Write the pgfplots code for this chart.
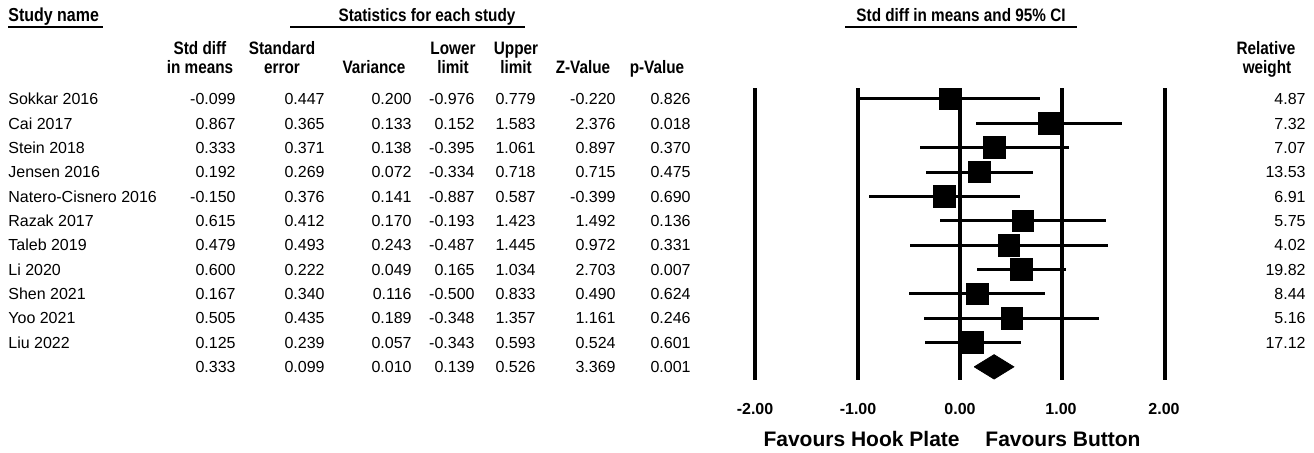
\documentclass[border=0pt]{standalone}
\usepackage{pgfplots}
\pgfplotsset{compat=1.18}
\usepackage{pgfplotstable}
\usepackage{fontspec}
\setmainfont{Liberation Sans}
\newfontfamily\hdr[FakeStretch=0.85]{Liberation Sans}

% row: 1 = top study, 12 = summary
\pgfplotstableread{
row es lo hi
1 -0.099 -0.976 0.779
2 0.867 0.152 1.583
3 0.333 -0.395 1.061
4 0.192 -0.334 0.718
5 -0.150 -0.887 0.587
6 0.615 -0.193 1.423
7 0.479 -0.487 1.445
8 0.600 0.165 1.034
9 0.167 -0.500 0.833
10 0.505 -0.348 1.357
11 0.125 -0.343 0.593
}\studies

\newcommand\rr[9]{%
  \node[anchor=base west] at (8,#1) {#2};
  \node[anchor=base east] at (236,#1) {#3};
  \node[anchor=base east] at (325,#1) {#4};
  \node[anchor=base east] at (412,#1) {#5};
  \node[anchor=base east] at (475,#1) {#6};
  \node[anchor=base east] at (536,#1) {#7};
  \node[anchor=base east] at (616,#1) {#8};
  \node[anchor=base east] at (691,#1) {#9};
}
\newcommand\wt[2]{\node[anchor=base east] at (1306,#1) {#2};}

\begin{document}
\begin{tikzpicture}
\begin{axis}[scale only axis, width=657pt, height=226.5pt,
  xmin=-9.384, xmax=3.460, ymin=-3.066, ymax=15.538, y dir=reverse,
  hide axis, clip=false]
\path (rel axis cs:0,0) rectangle (rel axis cs:1,1);
\addplot[black, line width=2pt] coordinates {(-2,0.55) (-2,12.54)};
\addplot[black, line width=2pt] coordinates {(-1,0.55) (-1,12.54)};
\addplot[black, line width=2pt] coordinates {(0,0.55) (0,12.54)};
\addplot[black, line width=2pt] coordinates {(1,0.55) (1,12.54)};
\addplot[black, line width=2pt] coordinates {(2,0.55) (2,12.54)};
\addplot[only marks, mark=square*, mark size=5.4pt, black,
  error bars/.cd, x dir=both, x explicit, error mark=none,
  error bar style={line width=1.5pt, black}]
  table[x=es, y=row,
        x error plus expr=\thisrow{hi}-\thisrow{es},
        x error minus expr=\thisrow{es}-\thisrow{lo}] {\studies};
\addplot[fill=black, draw=black] coordinates {(0.139,12) (0.333,11.5) (0.526,12) (0.333,12.5) (0.139,12)};
\end{axis}
\begin{scope}[shift={(current axis.north west)}, x=0.5pt, y=-0.5pt,
  every node/.style={inner sep=0pt, font=\fontsize{8}{9.6}\selectfont}]
  % section headers
  \node[anchor=base west, font=\hdr\bfseries\fontsize{9.4}{10}\selectfont] at (8,22) {Study name};
  \draw[line width=1pt] (8,27) -- (103,27);
  \node[anchor=base, font=\hdr\bfseries\fontsize{9}{10}\selectfont] at (427,22) {Statistics for each study};
  \draw[line width=1pt] (290,27) -- (525,27);
  \node[anchor=base, font=\hdr\bfseries\fontsize{9}{10}\selectfont] at (961,22) {Std diff in means and 95\% CI};
  \draw[line width=1pt] (845,27) -- (1077,27);
  % column headers
  \begin{scope}[every node/.style={inner sep=0pt, anchor=base, font=\hdr\bfseries\fontsize{9}{10}\selectfont}]
    \node at (200,55) {Std diff}; \node at (200,74) {in means};
    \node at (282,55) {Standard}; \node at (282,74) {error};
    \node at (374,74) {Variance};
    \node at (453,55) {Lower}; \node at (453,74) {limit};
    \node at (516,55) {Upper}; \node at (516,74) {limit};
    \node at (583,74) {Z-Value};
    \node at (657,74) {p-Value};
    \node at (1266,55) {Relative}; \node at (1267,74) {weight};
  \end{scope}
  % rows
  \rr{104.7}{Sokkar 2016}{-0.099}{0.447}{0.200}{-0.976}{0.779}{-0.220}{0.826}
  \rr{129.05}{Cai 2017}{0.867}{0.365}{0.133}{0.152}{1.583}{2.376}{0.018}
  \rr{153.4}{Stein 2018}{0.333}{0.371}{0.138}{-0.395}{1.061}{0.897}{0.370}
  \rr{177.75}{Jensen 2016}{0.192}{0.269}{0.072}{-0.334}{0.718}{0.715}{0.475}
  \rr{202.1}{Natero-Cisnero 2016}{-0.150}{0.376}{0.141}{-0.887}{0.587}{-0.399}{0.690}
  \rr{226.45}{Razak 2017}{0.615}{0.412}{0.170}{-0.193}{1.423}{1.492}{0.136}
  \rr{250.8}{Taleb 2019}{0.479}{0.493}{0.243}{-0.487}{1.445}{0.972}{0.331}
  \rr{275.15}{Li 2020}{0.600}{0.222}{0.049}{0.165}{1.034}{2.703}{0.007}
  \rr{299.5}{Shen 2021}{0.167}{0.340}{0.116}{-0.500}{0.833}{0.490}{0.624}
  \rr{323.85}{Yoo 2021}{0.505}{0.435}{0.189}{-0.348}{1.357}{1.161}{0.246}
  \rr{348.2}{Liu 2022}{0.125}{0.239}{0.057}{-0.343}{0.593}{0.524}{0.601}
  \rr{372.55}{}{0.333}{0.099}{0.010}{0.139}{0.526}{3.369}{0.001}
  \wt{104.7}{4.87} \wt{129.05}{7.32} \wt{153.4}{7.07} \wt{177.75}{13.53}
  \wt{202.1}{6.91} \wt{226.45}{5.75} \wt{250.8}{4.02} \wt{275.15}{19.82}
  \wt{299.5}{8.44} \wt{323.85}{5.16} \wt{348.2}{17.12}
  % tick labels
  \begin{scope}[every node/.style={inner sep=0pt, anchor=base, font=\bfseries\fontsize{8}{9.6}\selectfont}]
    \node at (755,415) {-2.00}; \node at (858,415) {-1.00}; \node at (960,415) {0.00};
    \node at (1061,415) {1.00}; \node at (1164,415) {2.00};
  \end{scope}
  \node[anchor=base east, font=\bfseries\fontsize{10.5}{12}\selectfont] at (960,447) {Favours Hook Plate};
  \node[anchor=base west, font=\bfseries\fontsize{10.5}{12}\selectfont] at (985,447) {Favours Button};
\end{scope}
\end{tikzpicture}
\end{document}
